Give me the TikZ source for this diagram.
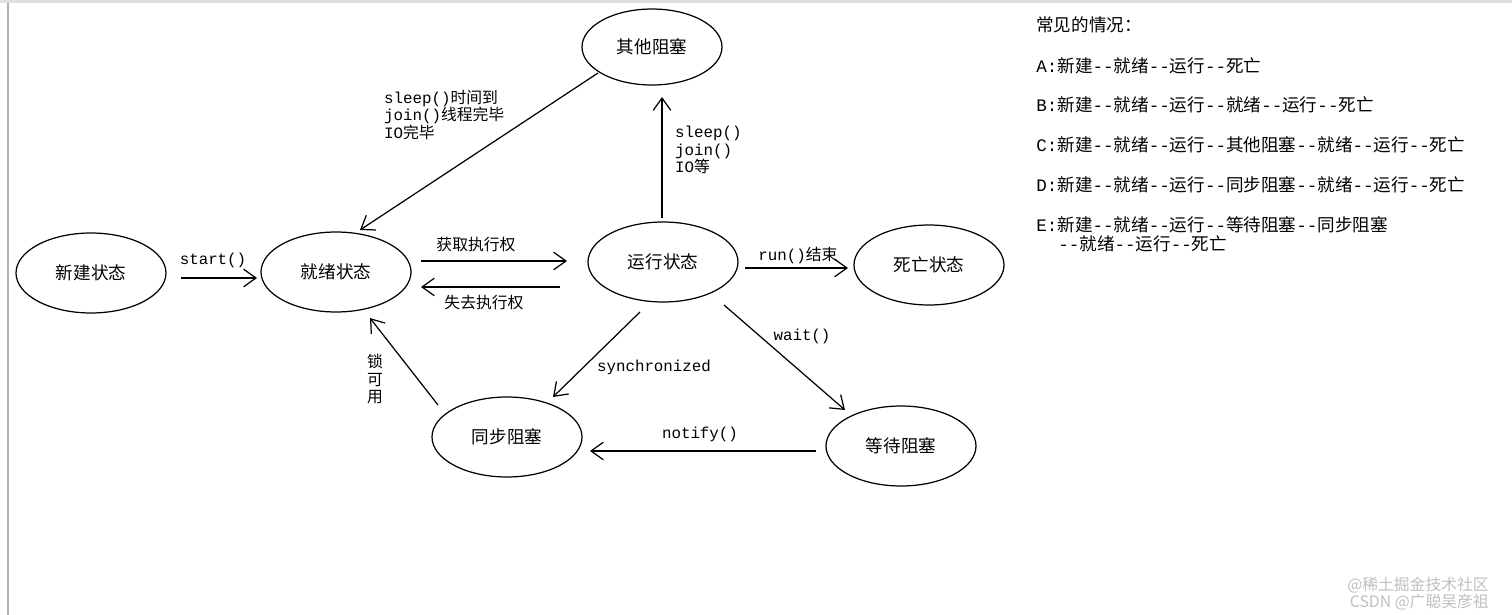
\documentclass[tikz,border=0pt]{standalone}
\usepackage{fontspec}
\setmainfont{Noto Sans CJK SC}
\setmonofont{Liberation Mono}
\newfontfamily\cjk{Noto Sans CJK SC}
\usetikzlibrary{arrows.meta}
\newcommand{\mo}[1]{{\ttfamily #1}}
\begin{document}
\begin{tikzpicture}[x=0.02cm,y=-0.02cm,
  arr/.style={-{Straight Barb[length=7pt,width=10pt]},line width=0.7pt},
  lbl/.style={font=\fontsize{9}{10}\selectfont,inner sep=1pt},
  rt/.style={font=\fontsize{10}{10}\selectfont,anchor=west,inner sep=0pt}]
\useasboundingbox (0,0) rectangle (1512,615);
\fill[gray!25] (0,0) rectangle (1512,3);
\draw[gray!60,line width=1pt] (8,3) -- (8,615);
\def\E#1#2#3#4#5#6{\draw[line width=0.7pt] (#2,#3) ellipse [x radius=#4,y radius=#5];
  \node[font=\fontsize{10}{12}\selectfont] (#1) at (#2,#3) {#6};}
\E{xj}{91}{273}{75}{40}{新建状态}
\E{jx}{336}{272}{75}{40}{就绪状态}
\E{qt}{652}{47}{70}{38}{其他阻塞}
\E{yx}{663}{262}{75}{40}{运行状态}
\E{sw}{929}{265}{75}{40}{死亡状态}
\E{tb}{507}{437}{75}{40}{同步阻塞}
\E{dd}{901}{446}{75}{40}{等待阻塞}
\coordinate (a1) at (181,278); \coordinate (a2) at (257,278);
\draw[arr] (a1) -- (a2); \node[lbl] at (213,260) {\mo{start()}};
\coordinate (b1) at (421,261); \coordinate (b2) at (567,261);
\draw[arr] (b1) -- (b2); \node[lbl] at (476,245) {获取执行权};
\coordinate (c1) at (560,287); \coordinate (c2) at (421,287);
\draw[arr] (c1) -- (c2); \node[lbl] at (484,303) {失去执行权};
\coordinate (d1) at (662,218); \coordinate (d2) at (662,97);
\draw[arr] (d1) -- (d2);
\node[lbl,anchor=north west,align=left] at (673,124) {\mo{sleep()}\\\mo{join()}\\\mo{IO}等};
\coordinate (e1) at (598,73); \coordinate (e2) at (360,230);
\draw[arr] (e1) -- (e2);
\node[lbl,anchor=north west,align=left] at (382,88) {\mo{sleep()}时间到\\\mo{join()}线程完毕\\\mo{IO}完毕};
\coordinate (f1) at (745,268); \coordinate (f2) at (848,268);
\draw[arr] (f1) -- (f2); \node[lbl] at (798,255) {\mo{run()}结束};
\coordinate (g1) at (724,305); \coordinate (g2) at (845,410);
\draw[arr] (g1) -- (g2); \node[lbl] at (802,336) {\mo{wait()}};
\coordinate (h1) at (640,312); \coordinate (h2) at (553,397);
\draw[arr] (h1) -- (h2); \node[lbl] at (654,367) {\mo{synchronized}};
\coordinate (i1) at (816,451); \coordinate (i2) at (590,451);
\draw[arr] (i1) -- (i2); \node[lbl] at (700,434) {\mo{notify()}};
\coordinate (j1) at (438,405); \coordinate (j2) at (370,318);
\draw[arr] (j1) -- (j2); \node[lbl,align=center] at (375,379) {锁\\可\\用};
\node[rt] at (1036,25) {常见的情况：};
\node[rt] at (1036,66) {\mo{A:}新建\mo{--}就绪\mo{--}运行\mo{--}死亡};
\node[rt] at (1036,105) {\mo{B:}新建\mo{--}就绪\mo{--}运行\mo{--}就绪\mo{--}运行\mo{--}死亡};
\node[rt] at (1036,145) {\mo{C:}新建\mo{--}就绪\mo{--}运行\mo{--}其他阻塞\mo{--}就绪\mo{--}运行\mo{--}死亡};
\node[rt] at (1036,185) {\mo{D:}新建\mo{--}就绪\mo{--}运行\mo{--}同步阻塞\mo{--}就绪\mo{--}运行\mo{--}死亡};
\node[rt] at (1036,225) {\mo{E:}新建\mo{--}就绪\mo{--}运行\mo{--}等待阻塞\mo{--}同步阻塞};
\node[rt] at (1058,244) {\mo{--}就绪\mo{--}运行\mo{--}死亡};
\node[font=\fontsize{9}{10}\selectfont,text=gray!50,anchor=east] at (1495,585) {@稀土掘金技术社区};
\node[font=\fontsize{9}{10}\selectfont,text=gray!50,anchor=east] at (1495,602) {CSDN @广聪吴彦祖};
\end{tikzpicture}
\end{document}
